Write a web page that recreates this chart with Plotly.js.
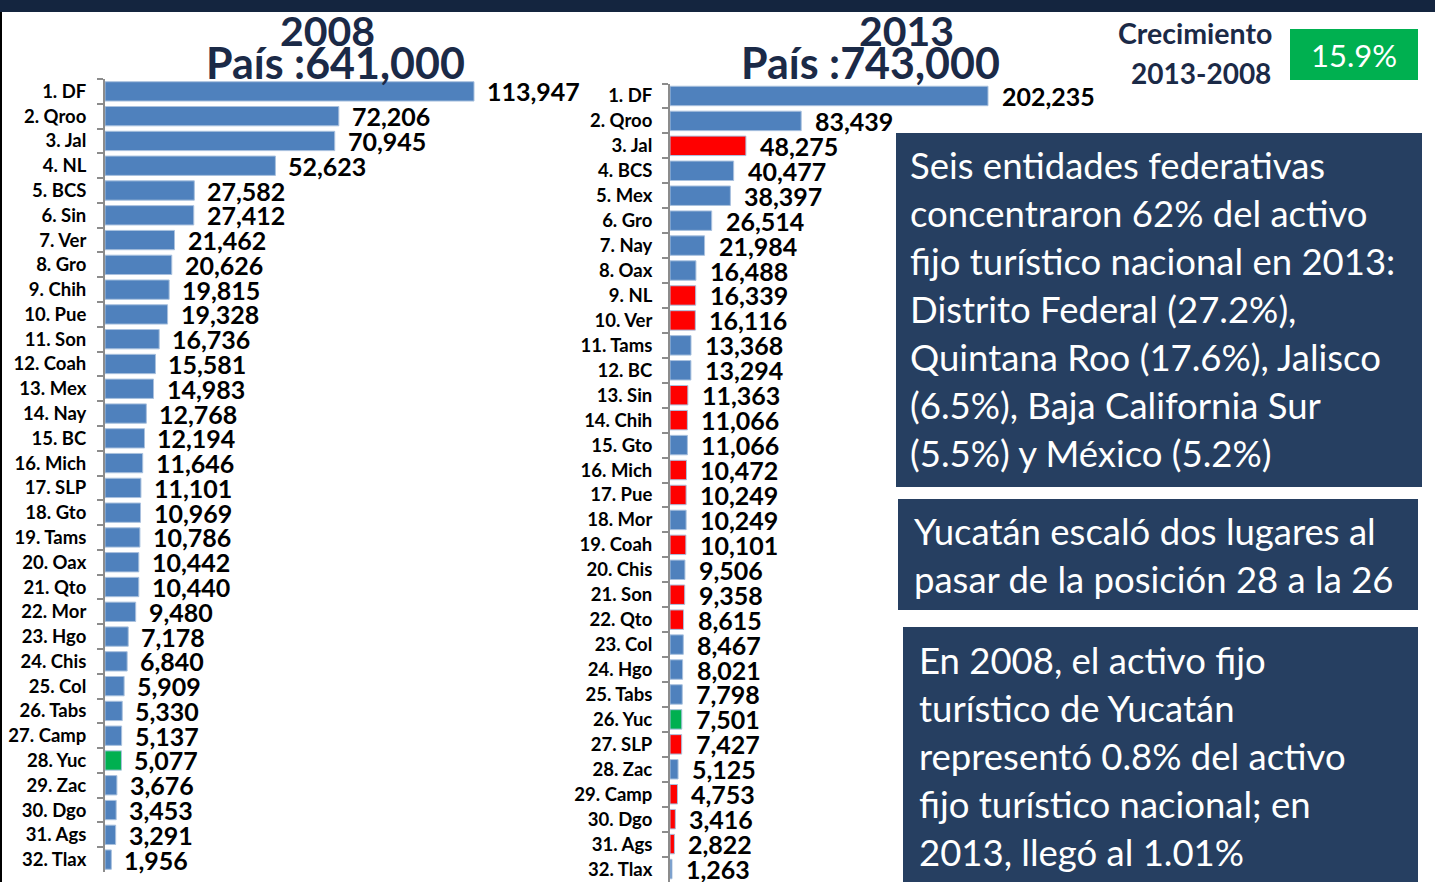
<!DOCTYPE html>
<html><head><meta charset="utf-8">
<script src="https://cdn.plot.ly/plotly-3.0.1.min.js"></script>
<style>html,body{margin:0;padding:0;background:#fff;overflow:hidden}</style>
</head><body><div id="chart" style="width:1435px;height:882px"></div>
<script>
const states2008 = ['DF','Qroo','Jal','NL','BCS','Sin','Ver','Gro','Chih','Pue','Son','Coah','Mex','Nay','BC','Mich','SLP','Gto','Tams','Oax','Qto','Mor','Hgo','Chis','Col','Tabs','Camp','Yuc','Zac','Dgo','Ags','Tlax'];
const values2008 = [113947,72206,70945,52623,27582,27412,21462,20626,19815,19328,16736,15581,14983,12768,12194,11646,11101,10969,10786,10442,10440,9480,7178,6840,5909,5330,5137,5077,3676,3453,3291,1956];
const status2008 = ['n','n','n','n','n','n','n','n','n','n','n','n','n','n','n','n','n','n','n','n','n','n','n','n','n','n','n','y','n','n','n','n'];

const states2013 = ['DF','Qroo','Jal','BCS','Mex','Gro','Nay','Oax','NL','Ver','Tams','BC','Sin','Chih','Gto','Mich','Pue','Mor','Coah','Chis','Son','Qto','Col','Hgo','Tabs','Yuc','SLP','Zac','Camp','Dgo','Ags','Tlax'];
const values2013 = [202235,83439,48275,40477,38397,26514,21984,16488,16339,16116,13368,13294,11363,11066,11066,10472,10249,10249,10101,9506,9358,8615,8467,8021,7798,7501,7427,5125,4753,3416,2822,1263];
const status2013 = ['n','n','d','n','n','n','n','n','d','d','n','n','d','d','n','d','d','n','d','n','d','d','n','n','n','y','d','n','d','d','d','n'];

const title2008 = ['2008', 'País :641,000'];
const title2013 = ['2013', 'País :743,000'];
const growthLabel = ['Crecimiento', '2013-2008'];
const growthValue = '15.9%';
const box1Lines = ['Seis entidades federativas','concentraron 62% del activo','fijo turístico nacional en 2013:','Distrito Federal (27.2%),','Quintana Roo (17.6%), Jalisco','(6.5%), Baja California Sur','(5.5%) y México (5.2%)'];
const box2Lines = ['Yucatán escaló dos lugares al','pasar de la posición 28 a la 26'];
const box3Lines = ['En 2008, el activo fijo','turístico de Yucatán','representó 0.8% del activo','fijo turístico nacional; en','2013, llegó al 1.01%'];

const W = 1435, H = 882;
const px = x => x / W;
const py = y => 1 - y / H;
const colorMap = {n: '#4f81bd', d: '#ff0000', y: '#00b050'};
const NAVY = '#1b2a47';
const BOX = '#263f61';

const cats2008 = states2008.map((s, i) => (i + 1) + '. ' + s);
const cats2013 = states2013.map((s, i) => (i + 1) + '. ' + s);
const fmt = v => v.toLocaleString('en-US');

const traces = [
  {type: 'bar', orientation: 'h', x: values2008, y: cats2008, xaxis: 'x', yaxis: 'y',
   marker: {color: status2008.map(s => colorMap[s]), line: {color: '#a9c1de', width: 1}}, hoverinfo: 'x+y'},
  {type: 'bar', orientation: 'h', x: values2013, y: cats2013, xaxis: 'x2', yaxis: 'y2',
   marker: {color: status2013.map(s => colorMap[s]), line: {color: '#a9c1de', width: 1}}, hoverinfo: 'x+y'}
];

const yax = (dom, anchor, standoff) => ({
  type: 'category', domain: dom, anchor: anchor, range: [31.5, -0.5],
  showline: true, linecolor: '#8c8c8c', linewidth: 2,
  ticks: 'outside', ticklen: 6, tickcolor: '#8c8c8c', tickwidth: 2, tickson: 'boundaries',
  ticklabelstandoff: standoff,
  tickfont: {family: 'Lato', size: 18.5, color: '#000', weight: 'bold'},
  showgrid: false, zeroline: false, fixedrange: true
});
const xax = (dom, anchor, max) => ({
  domain: dom, anchor: anchor, range: [0, max], visible: false, fixedrange: true
});

const annotations = [];
const valueFont = {family: 'Lato', size: 25, color: '#000', weight: 'bold'};
values2008.forEach((v, i) => annotations.push({x: v, y: cats2008[i], xref: 'x', yref: 'y', text: fmt(v),
  xanchor: 'left', yanchor: 'middle', xshift: 11, showarrow: false, font: valueFont}));
values2013.forEach((v, i) => annotations.push({x: v, y: cats2013[i], xref: 'x2', yref: 'y2', text: fmt(v),
  xanchor: 'left', yanchor: 'middle', xshift: 12, showarrow: false, font: valueFont}));

const pa = (x, y, text, font, xanchor) => annotations.push({x: px(x), y: py(y), xref: 'paper', yref: 'paper',
  text: text, showarrow: false, xanchor: xanchor || 'center', yanchor: 'middle', font: font});

pa(327, 30, title2008[0], {family: 'Lato', size: 41, color: NAVY, weight: 'bold'});
pa(335, 63, title2008[1], {family: 'Lato', size: 43, color: NAVY, weight: 'bold'});
pa(906, 30, title2013[0], {family: 'Lato', size: 41, color: NAVY, weight: 'bold'});
pa(870, 63, title2013[1], {family: 'Lato', size: 43, color: NAVY, weight: 'bold'});
pa(1274, 33, growthLabel[0], {family: 'Lato', size: 28.5, color: NAVY, weight: 'bold'}, 'right');
pa(1273, 73, growthLabel[1], {family: 'Lato', size: 28, color: NAVY, weight: 'bold'}, 'right');
pa(1354, 55, growthValue, {family: 'Lato', size: 31, color: '#fff'});

const boxFont = {family: 'Lato', size: 36.5, color: '#fff'};
box1Lines.forEach((t, i) => pa(908, 165 + 48 * i, t, boxFont, 'left'));
box2Lines.forEach((t, i) => pa(912, 531 + 48 * i, t, boxFont, 'left'));
box3Lines.forEach((t, i) => pa(917, 660 + 48 * i, t, boxFont, 'left'));

const rect = (x0, y0, x1, y1, color) => ({type: 'rect', xref: 'paper', yref: 'paper',
  x0: px(x0), x1: px(x1), y0: py(y1), y1: py(y0), fillcolor: color, line: {width: 0}, layer: 'below'});

const shapes = [
  rect(0, 0, W, 12, '#14253f'),
  rect(0, 12, 2, H, '#000'),
  rect(1290, 29, 1418, 80, '#00b050'),
  rect(896, 133, 1422, 487, BOX),
  rect(898, 499, 1418, 610, BOX),
  rect(903, 627, 1418, H, BOX)
];

const layout = {
  width: W, height: H, margin: {l: 0, r: 0, t: 0, b: 0},
  paper_bgcolor: '#fff', plot_bgcolor: 'rgba(0,0,0,0)',
  showlegend: false, bargap: 0.22,
  font: {family: 'Lato'},
  xaxis: xax([px(105), px(600)], 'y', 495 / (369 / 113947)),
  yaxis: yax([py(872), py(79)], 'x', 13),
  xaxis2: xax([px(670), px(1300)], 'y2', 630 / (318 / 202235)),
  yaxis2: yax([py(881.5), py(83.5)], 'x2', 12),
  shapes: shapes, annotations: annotations
};

Plotly.newPlot('chart', traces, layout, {displayModeBar: false, staticPlot: true});
</script></body></html>
